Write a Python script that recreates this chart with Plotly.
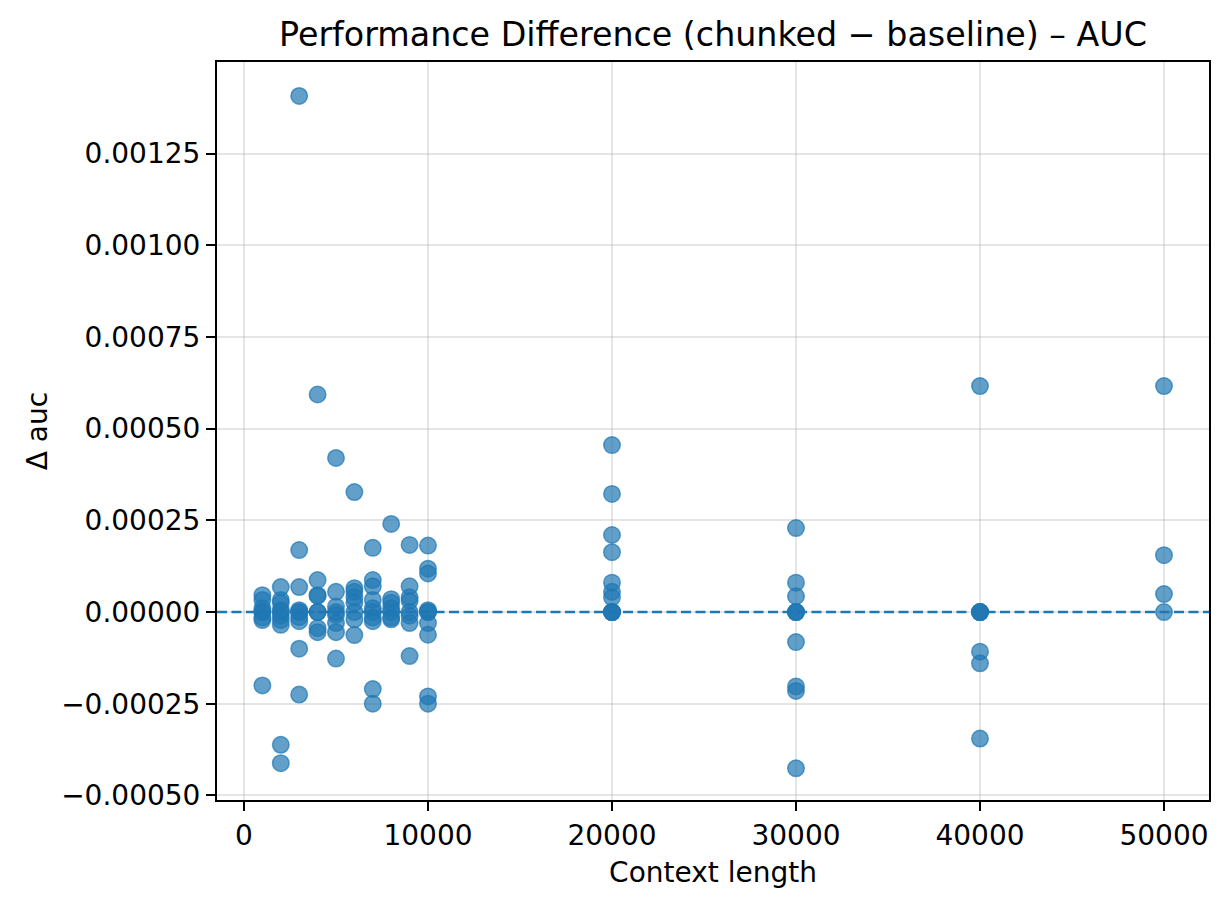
import plotly.graph_objects as go

# Δ auc values (in units of 1e-5) per context length
d1000 = [4.6, 3.3, 1.0, 0, 0, -1.5, -2.2, -20.0]
d2000 = [6.8, 3.3, 2.5, 0.5, 0, -1.0, -2.2, -3.5, -36.2, -41.2]
d3000 = [140.7, 16.9, 6.8, 0.5, 0, 0, -1.4, -2.5, -10.0, -22.5]
d4000 = [59.3, 8.7, 4.6, 4.4, 0, 0, -4.4, -5.5]
d5000 = [42.0, 5.5, 1.5, 0, -0.8, -3.0, -5.5, -12.7]
d6000 = [32.7, 6.5, 5.5, 4.0, 2.5, 0, -2.0, -6.3]
d7000 = [17.5, 8.7, 7.0, 3.3, 1.0, 0, -1.5, -2.5, -21.0, -25.0]
d8000 = [24.0, 3.5, 2.5, 1.0, 0, -1.5, -2.0]
d9000 = [18.3, 7.0, 4.0, 3.0, 0, -1.0, -3.0, -12.0]
d10000 = [18.1, 11.8, 10.5, 0.5, 0, 0, -3.0, -6.2, -23.0, -25.0]
d20000 = [45.5, 32.2, 21.0, 16.3, 8.0, 5.5, 4.0, 0, 0, 0, 0]
d30000 = [22.9, 8.0, 4.3, 0, 0, 0, -8.2, -20.3, -21.5, -42.6]
d40000 = [61.6, 0, 0, 0, 0, -10.8, -14.0, -34.5]
d50000 = [61.6, 15.5, 4.9, 0]

context_lengths = [1000, 2000, 3000, 4000, 5000, 6000, 7000, 8000, 9000, 10000,
                   20000, 30000, 40000, 50000]
series = [d1000, d2000, d3000, d4000, d5000, d6000, d7000, d8000, d9000, d10000,
          d20000, d30000, d40000, d50000]

xtick_vals = [0, 10000, 20000, 30000, 40000, 50000]
xtick_text = ["0", "10000", "20000", "30000", "40000", "50000"]
ytick_vals = [-0.0005, -0.00025, 0.0, 0.00025, 0.0005, 0.00075, 0.001, 0.00125]
ytick_text = ["\u22120.00050", "\u22120.00025", "0.00000", "0.00025", "0.00050",
              "0.00075", "0.00100", "0.00125"]

xs, ys = [], []
for c, vals in zip(context_lengths, series):
    for v in vals:
        xs.append(c)
        ys.append(v * 1e-5)

BLUE = "#1f77b4"
BLUE_A = "rgba(31,119,180,0.7)"
FONT = "DejaVu Sans"

W, H = 1221, 900  # page body has an 8px margin

fig = go.Figure()
fig.add_trace(go.Scatter(
    x=xs, y=ys, mode="markers",
    marker=dict(size=16.5, color=BLUE_A,
                line=dict(color=BLUE_A, width=1.5)),
    showlegend=False, hoverinfo="x+y",
))
fig.add_hline(y=0, line=dict(color=BLUE, width=2.7, dash="10px,4.5px"), layer="above")

axis_common = dict(
    showline=True, linecolor="black", linewidth=2, mirror=True,
    ticks="outside", ticklen=9, tickwidth=2, tickcolor="black",
    showgrid=True, gridcolor="rgba(176,176,176,0.33)", gridwidth=2,
    zeroline=False,
    tickfont=dict(family=FONT, size=28, color="black"),
)

fig.update_layout(
    width=W, height=H,
    paper_bgcolor="white", plot_bgcolor="white",
    margin=dict(l=209, r=20, t=54, b=108),
    title=dict(text="Performance Difference (chunked \u2212 baseline) \u2013 AUC",
               x=705 / W, xanchor="center",
               y=1 - 26 / H, yanchor="middle",
               font=dict(family=FONT, size=33.3, color="black")),
    xaxis=dict(range=[-1467, 52446], tickvals=xtick_vals, ticktext=xtick_text,
               title=dict(text="Context length", standoff=12,
                          font=dict(family=FONT, size=28, color="black")),
               **axis_common),
    yaxis=dict(range=[-0.0005125, 0.0014995], tickvals=ytick_vals, ticktext=ytick_text,
               title=dict(text="\u0394 auc", standoff=5,
                          font=dict(family=FONT, size=28, color="black")),
               **axis_common),
)

fig.write_html("out.html")
